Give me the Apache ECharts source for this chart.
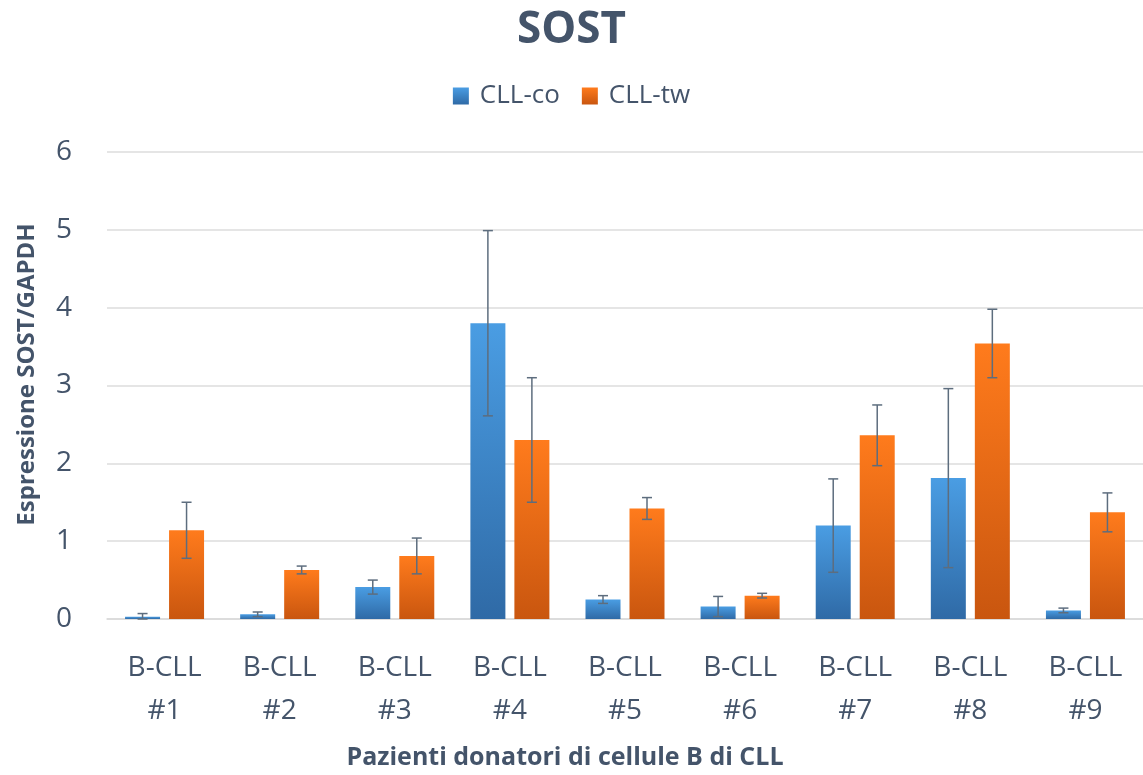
<!DOCTYPE html>
<html>
<head>
<meta charset="utf-8">
<script src="https://cdn.jsdelivr.net/npm/echarts@6/dist/echarts.min.js"></script>
<style>
  html, body { margin: 0; padding: 0; background: #fff; }
  #chart { width: 1143px; height: 775px; }
</style>
</head>
<body>
<div id="chart"></div>
<script>
var categories = ['B-CLL\n#1', 'B-CLL\n#2', 'B-CLL\n#3', 'B-CLL\n#4', 'B-CLL\n#5', 'B-CLL\n#6', 'B-CLL\n#7', 'B-CLL\n#8', 'B-CLL\n#9'];
var coValues = [0.03, 0.06, 0.41, 3.80, 0.25, 0.16, 1.20, 1.81, 0.11];
var coErrors = [0.04, 0.03, 0.09, 1.19, 0.05, 0.13, 0.60, 1.15, 0.03];
var twValues = [1.14, 0.63, 0.81, 2.30, 1.42, 0.30, 2.36, 3.54, 1.37];
var twErrors = [0.36, 0.05, 0.23, 0.80, 0.14, 0.03, 0.39, 0.44, 0.25];
var yTicks = [0, 1, 2, 3, 4, 5, 6];

var textColor = '#44546a';
var barWidth = 35;
var barGapPx = 9;

function grad(top, bottom) {
    return new echarts.graphic.LinearGradient(0, 0, 0, 1, [
        { offset: 0, color: top },
        { offset: 1, color: bottom }
    ]);
}

// error bars drawn on top of the grouped bars
function errorSeries(values, errors, side) {
    return {
        type: 'custom',
        silent: true,
        z: 10,
        data: values.map(function (v, i) { return [i, v, errors[i]]; }),
        renderItem: function (params, api) {
            var i = api.value(0);
            var v = api.value(1);
            var e = api.value(2);
            var shift = side * (barWidth + barGapPx) / 2;
            var hi = api.coord([i, v + e]);
            var lo = api.coord([i, Math.max(v - e, 0)]);
            var x = hi[0] + shift;
            var cap = 5;
            var style = { stroke: '#5d6d7e', lineWidth: 1.5 };
            return {
                type: 'group',
                children: [
                    { type: 'line', shape: { x1: x, y1: hi[1], x2: x, y2: lo[1] }, style: style },
                    { type: 'line', shape: { x1: x - cap, y1: hi[1], x2: x + cap, y2: hi[1] }, style: style },
                    { type: 'line', shape: { x1: x - cap, y1: lo[1], x2: x + cap, y2: lo[1] }, style: style }
                ]
            };
        }
    };
}

var myChart = echarts.init(document.getElementById('chart'));
var option = {
    animation: false,
    textStyle: { fontFamily: 'Open Sans' },
    title: {
        text: 'SOST',
        left: 'center',
        top: 3,
        textStyle: { fontSize: 44, fontWeight: 'bold', color: textColor, fontFamily: 'Open Sans' }
    },
    legend: {
        top: 78,
        left: 'center',
        itemWidth: 16,
        itemHeight: 17,
        itemGap: 22,
        icon: 'rect',
        textStyle: { fontSize: 26, color: textColor, padding: [0, 0, 0, 6] },
        data: ['CLL-co', 'CLL-tw']
    },
    grid: { left: 107, right: 0, top: 152, bottom: 156 },
    xAxis: {
        type: 'category',
        data: categories,
        name: 'Pazienti donatori di cellule B di CLL',
        nameLocation: 'middle',
        nameGap: 126,
        nameTextStyle: { fontSize: 25, fontWeight: 'bold', color: textColor, padding: [0, 120, 0, 0] },
        axisLine: { lineStyle: { color: '#d9d9d9', width: 1.5 } },
        axisTick: { show: false },
        axisLabel: { fontSize: 28, color: textColor, lineHeight: 43, margin: 28 }
    },
    yAxis: {
        type: 'value',
        min: yTicks[0],
        max: yTicks[yTicks.length - 1],
        interval: 1,
        name: 'Espressione SOST/GAPDH',
        nameLocation: 'middle',
        nameRotate: 90,
        nameGap: 68,
        nameTextStyle: { fontSize: 24, fontWeight: 'bold', color: textColor, padding: [0, 0, 0, 22] },
        axisLine: { show: false },
        axisTick: { show: false },
        splitLine: { lineStyle: { color: '#dcdcdc', width: 1.5 } },
        axisLabel: { fontSize: 28, color: textColor, margin: 35 }
    },
    series: [{
        name: 'CLL-co',
        type: 'bar',
        barWidth: barWidth,
        barGap: (barGapPx / barWidth * 100) + '%',
        data: coValues,
        itemStyle: { color: grad('#4a9de3', '#2f6aa6') }
    }, {
        name: 'CLL-tw',
        type: 'bar',
        barWidth: barWidth,
        data: twValues,
        itemStyle: { color: grad('#ff7b1c', '#c9560f') }
    },
    errorSeries(coValues, coErrors, -1),
    errorSeries(twValues, twErrors, 1)]
};
myChart.setOption(option);
</script>
</body>
</html>
